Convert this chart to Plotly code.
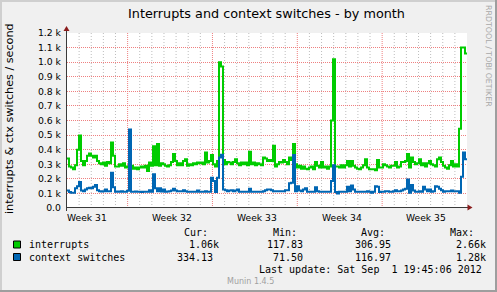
import plotly.graph_objects as go

# ---------------- data ----------------
# one sample per 2 graph pixels (~4 hours), month view (33 days)
interrupts = [
    340, 284, 277, 265, 293, 400, 497, 323, 293, 323,
    358, 374, 358, 346, 358, 323, 307, 300, 312, 289,
    316, 307, 450, 358, 284, 284, 300, 289, 307, 277,
    284, 284, 289, 270, 277, 265, 277, 284, 277, 289,
    254, 312, 289, 423, 293, 439, 289, 307, 300, 289,
    284, 293, 316, 370, 323, 293, 307, 293, 323, 335,
    289, 300, 293, 307, 300, 312, 307, 312, 300, 381,
    312, 323, 363, 300, 284, 323, 1000, 970, 330, 300,
    316, 312, 300, 316, 335, 307, 293, 312, 300, 312,
    293, 386, 300, 312, 293, 307, 300, 293, 346, 339,
    323, 330, 323, 427, 284, 300, 316, 312, 330, 316,
    300, 346, 330, 439, 300, 277, 289, 270, 284, 270,
    265, 277, 284, 265, 316, 289, 277, 316, 277, 284,
    270, 284, 600, 1020, 284, 284, 277, 293, 277, 293,
    323, 284, 323, 289, 277, 270, 265, 277, 293, 335,
    277, 265, 265, 265, 259, 330, 277, 277, 300, 293,
    284, 277, 289, 289, 316, 277, 284, 316, 316, 323,
    370, 277, 346, 316, 300, 307, 335, 293, 307, 284,
    307, 323, 300, 293, 284, 335, 346, 316, 289, 277,
    270, 293, 323, 284, 300, 284, 543, 1100, 1100, 1060,
]
context_switches = [
    120, 109, 104, 104, 136, 150, 178, 120, 115, 127,
    136, 139, 136, 145, 157, 122, 115, 113, 115, 127,
    115, 115, 242, 143, 111, 113, 111, 115, 111, 111,
    118, 538, 111, 111, 113, 111, 111, 109, 111, 111,
    111, 122, 111, 231, 136, 115, 136, 113, 127, 111,
    113, 115, 120, 132, 120, 115, 115, 115, 122, 115,
    111, 111, 111, 111, 111, 120, 111, 111, 111, 115,
    111, 111, 208, 185, 109, 208, 346, 365, 127, 122,
    115, 120, 122, 115, 120, 127, 111, 111, 111, 111,
    111, 132, 111, 111, 111, 111, 111, 111, 115, 122,
    127, 127, 122, 115, 115, 115, 115, 115, 115, 122,
    122, 169, 173, 363, 115, 150, 120, 115, 127, 136,
    111, 111, 111, 111, 143, 115, 111, 111, 111, 111,
    111, 111, 185, 293, 109, 99, 111, 111, 111, 111,
    145, 115, 155, 127, 111, 111, 111, 111, 111, 111,
    115, 111, 104, 111, 150, 145, 109, 111, 111, 115,
    115, 111, 111, 115, 122, 115, 115, 120, 127, 132,
    196, 104, 157, 120, 111, 111, 115, 111, 145, 127,
    115, 127, 111, 115, 150, 145, 132, 122, 111, 115,
    115, 115, 120, 115, 115, 115, 104, 215, 381, 335,
]
SAMPLE_DAYS = 0.165          # spacing of the samples in days
RANGE_DAYS = 33.0            # month graph span
week_starts = [5.0, 12.0, 19.0, 26.0]
week_labels = ["Week 31", "Week 32", "Week 33", "Week 34", "Week 35"]
week_label_pos = [1.65, 8.65, 15.65, 22.65, 29.65]

y_ticks = [0, 100, 200, 300, 400, 500, 600, 700, 800, 900, 1000, 1100, 1200]
y_ticktext = ["0.0", "0.1 k", "0.2 k", "0.3 k", "0.4 k", "0.5 k", "0.6 k",
              "0.7 k", "0.8 k", "0.9 k", "1.0 k", "1.1 k", "1.2 k"]

series_names = ["interrupts", "context switches"]
series_colors = ["#00CC00", "#0066B3"]
cur_vals = ["  1.06k", "334.13 "]
min_vals = ["117.83 ", " 71.50 "]
avg_vals = ["306.95 ", "116.97 "]
max_vals = ["  2.66k", "  1.28k"]
last_update = "Last update: Sat Sep\u00a0\u00a01 19:45:06 2012"

# ---------------- geometry helpers ----------------
FW, FH = 497, 292
ML, MR, MT, MB = 67, 30, 33, 84
PW, PH = FW - ML - MR, FH - MT - MB


def px(x):
    return (x - ML) / PW


def py(y):
    return (FH - MB - y) / PH


SANS = "DejaVu Sans"
MONO = "DejaVu Sans Mono"
CW = 6.02  # mono char width at 10px

fig = go.Figure()
for name, vals, col in zip(series_names, [interrupts, context_switches], series_colors):
    xs = [i * SAMPLE_DAYS for i in range(len(vals))] + [RANGE_DAYS]
    ys = list(vals) + [vals[-1]]
    fig.add_trace(go.Scatter(x=xs, y=ys, mode="lines", line=dict(color=col, width=2, shape="hv"),
                             name=name, showlegend=False, hoverinfo="skip"))

major_grid = "#EE8080"
minor_grid = "#BDBDBD"

fig.update_layout(
    width=FW, height=FH,
    margin=dict(l=ML, r=MR, t=MT, b=MB, pad=0),
    paper_bgcolor="#F0F0F0",
    plot_bgcolor="#FFFFFF",
    showlegend=False,
    xaxis=dict(range=[0, RANGE_DAYS], showticklabels=False, showgrid=False,
               zeroline=False, showline=False, ticks=""),
    yaxis=dict(range=[0, 1200], tickmode="array", tickvals=y_ticks, ticktext=y_ticktext,
               showgrid=True, gridcolor=major_grid, griddash="1px,1px", gridwidth=1,
               zeroline=False, showline=False, ticks="", ticklabelstandoff=5,
               tickfont=dict(family=SANS, size=9.3, color="#000")),
)

shapes = []
# vertical grid: daily (grey) and weekly (red)
day0 = week_starts[0] - 5
for d in range(int(RANGE_DAYS) + 1):
    xv = day0 + d
    if not (0 < xv < RANGE_DAYS):
        continue
    is_week = any(abs(xv - w) < 1e-6 for w in week_starts)
    shapes.append(dict(type="line", xref="x", yref="paper", x0=xv, x1=xv, y0=0, y1=1,
                       layer="below",
                       line=dict(color=major_grid if is_week else minor_grid, width=1,
                                 dash="1px,1px" if is_week else "1px,2px")))
# frame shading
shapes.append(dict(type="rect", xref="paper", yref="paper", x0=px(0), x1=px(FW), y0=py(0), y1=py(2),
                   fillcolor="#CFCFCF", line=dict(width=0), layer="below"))
shapes.append(dict(type="rect", xref="paper", yref="paper", x0=px(0), x1=px(2), y0=py(0), y1=py(FH),
                   fillcolor="#CFCFCF", line=dict(width=0), layer="below"))
shapes.append(dict(type="rect", xref="paper", yref="paper", x0=px(0), x1=px(FW), y0=py(FH - 2), y1=py(FH),
                   fillcolor="#9E9E9E", line=dict(width=0), layer="below"))
shapes.append(dict(type="rect", xref="paper", yref="paper", x0=px(FW - 2), x1=px(FW), y0=py(0), y1=py(FH),
                   fillcolor="#9E9E9E", line=dict(width=0), layer="below"))
# axis lines
axis_col = "#3a3a3a"
shapes.append(dict(type="line", xref="paper", yref="paper", x0=px(66), x1=px(469), y0=py(207.5), y1=py(207.5),
                   line=dict(color=axis_col, width=1)))
shapes.append(dict(type="line", xref="paper", yref="paper", x0=px(66.5), x1=px(66.5), y0=py(211), y1=py(30),
                   line=dict(color=axis_col, width=1)))
arrow_col = "#8A1C1C"
shapes.append(dict(type="path", xref="paper", yref="paper",
                   path=f"M {px(467.5)} {py(204.5)} L {px(472.5)} {py(207.5)} L {px(467.5)} {py(210.5)} Z",
                   fillcolor=arrow_col, line=dict(width=0)))
shapes.append(dict(type="path", xref="paper", yref="paper",
                   path=f"M {px(63.5)} {py(31)} L {px(66.5)} {py(26)} L {px(69.5)} {py(31)} Z",
                   fillcolor=arrow_col, line=dict(width=0)))
# legend colour boxes
for i, col in enumerate(series_colors):
    yc = 244.5 + i * 12.5
    shapes.append(dict(type="rect", xref="paper", yref="paper", x0=px(13.5), x1=px(20.5),
                       y0=py(yc - 3.5), y1=py(yc + 3.5), fillcolor=col,
                       line=dict(color="#000", width=1)))
fig.update_layout(shapes=shapes)

ann = []
# title
ann.append(dict(text="Interrupts and context switches - by month", xref="paper", yref="paper",
                x=px(266.5), y=py(13.5), xanchor="center", yanchor="middle", showarrow=False,
                font=dict(family=SANS, size=12.8, color="#000")))
# y title
ann.append(dict(text="interrupts & ctx switches / second", xref="paper", yref="paper",
                x=px(9.5), y=py(118.5), xanchor="center", yanchor="middle", textangle=-90,
                showarrow=False, font=dict(family=SANS, size=11.2, color="#000")))
# rrdtool watermark
ann.append(dict(text="RRDTOOL / TOBI OETIKER", xref="paper", yref="paper",
                x=px(489), y=py(56), xanchor="center", yanchor="middle", textangle=90,
                showarrow=False, font=dict(family=SANS, size=7.9, color="#A8A8A8")))
# week labels
for lab, pos in zip(week_labels, week_label_pos):
    ann.append(dict(text=lab, xref="x", yref="paper", x=pos, y=py(217), xanchor="center",
                    yanchor="middle", showarrow=False, font=dict(family=SANS, size=9.2, color="#000")))


def mono(text, x_left, y_c, color="#000", size=10):
    lead = len(text) - len(text.lstrip(" "))
    ann.append(dict(text=text.strip(" "), xref="paper", yref="paper", x=px(x_left + lead * CW),
                    y=py(y_c), xanchor="left", yanchor="middle", showarrow=False,
                    font=dict(family=MONO, size=size, color=color)))


hdr_y = 232.5
for t, xl in zip(["Cur:", "Min:", "Avg:", "Max:"], [182, 271, 359, 448]):
    mono(t, xl, hdr_y)
col_x = [175, 265, 353, 442]
for i, name in enumerate(series_names):
    yc = 244.5 + i * 12.5
    mono(name, 27, yc)
    for cx, arr in zip(col_x, [cur_vals, min_vals, avg_vals, max_vals]):
        mono(arr[i], cx, yc)
ann.append(dict(text=last_update, xref="paper", yref="paper", x=px(483.5), y=py(269.5),
                xanchor="right", yanchor="middle", showarrow=False,
                font=dict(family=MONO, size=10, color="#000")))
ann.append(dict(text="Munin 1.4.5", xref="paper", yref="paper", x=px(225), y=py(281),
                xanchor="left", yanchor="middle", showarrow=False,
                font=dict(family=SANS, size=8, color="#A0A0A0")))
fig.update_layout(annotations=ann)

fig.write_html("out.html")
